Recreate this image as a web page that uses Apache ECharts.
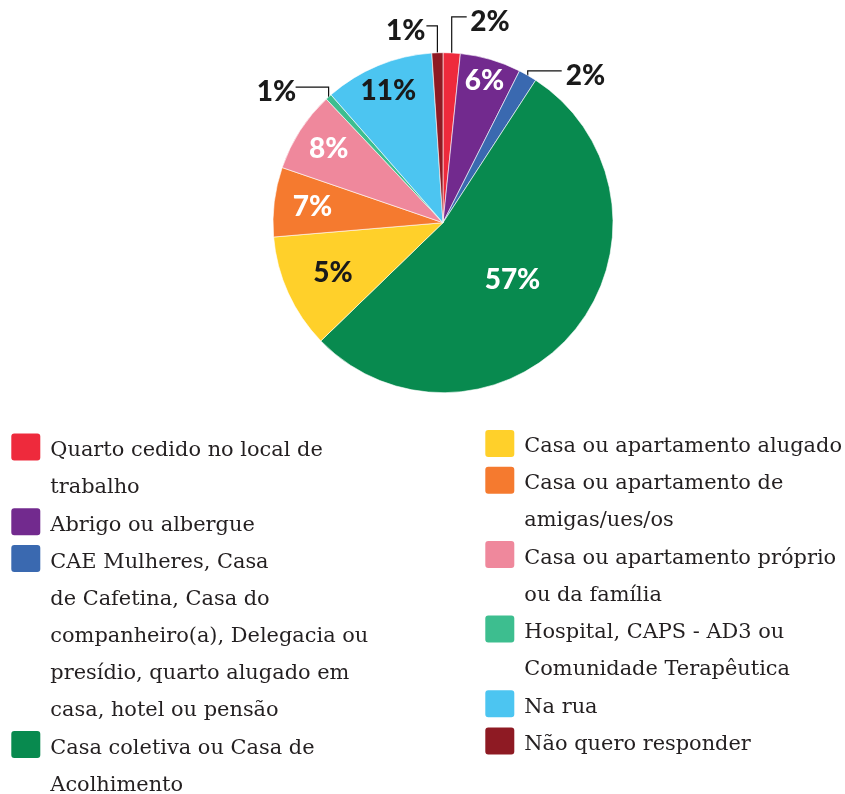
<!DOCTYPE html>
<html><head><meta charset="utf-8">
<script src="https://cdn.jsdelivr.net/npm/echarts@6/dist/echarts.min.js"></script>
<style>html,body{margin:0;padding:0;background:#fff}#c{width:845px;height:794px}</style>
</head><body><div id="c"></div>
<script>
// ---- data ----
const categories = [
  'Quarto cedido no local de trabalho',
  'Abrigo ou albergue',
  'CAE Mulheres, Casa de Cafetina, Casa do companheiro(a), Delegacia ou presídio, quarto alugado em casa, hotel ou pensão',
  'Casa coletiva ou Casa de Acolhimento',
  'Casa ou apartamento alugado',
  'Casa ou apartamento de amigas/ues/os',
  'Casa ou apartamento próprio ou da família',
  'Hospital, CAPS - AD3 ou Comunidade Terapêutica',
  'Na rua',
  'Não quero responder'
];
// slice sizes as drawn in the picture (angular share, %)
const sliceValues = [1.63, 5.8, 1.75, 53.6, 10.9, 6.6, 7.7, 0.6, 10.4, 1.05];
// percentage labels as printed on the chart
const percentLabels = ['2%', '6%', '2%', '57%', '5%', '7%', '8%', '1%', '11%', '1%'];
// legend text, as wrapped in the picture
const legendLines = [
  ['Quarto cedido no local de', 'trabalho'],
  ['Abrigo ou albergue'],
  ['CAE Mulheres, Casa', 'de Cafetina, Casa do', 'companheiro(a), Delegacia ou', 'presídio, quarto alugado em', 'casa, hotel ou pensão'],
  ['Casa coletiva ou Casa de', 'Acolhimento'],
  ['Casa ou apartamento alugado'],
  ['Casa ou apartamento de', 'amigas/ues/os'],
  ['Casa ou apartamento próprio', 'ou da família'],
  ['Hospital, CAPS - AD3 ou', 'Comunidade Terapêutica'],
  ['Na rua'],
  ['Não quero responder']
];

// ---- styles / layout ----
const colors = ['#EE2A3C', '#722A8E', '#3A69B0', '#088A4F', '#FFD02A', '#F57A2F', '#EF889C', '#3DBE8F', '#4CC5F1', '#8E1A23'];
const labelColors = ['#1a1a1a', '#ffffff', '#1a1a1a', '#ffffff', '#1a1a1a', '#ffffff', '#ffffff', '#1a1a1a', '#1a1a1a', '#1a1a1a'];
const CX = 443, CY = 222.7, R = 170;
const insideRadius = {1: 148, 3: 90, 4: 121, 5: 131.5, 6: 136, 8: 142.7};
const outsideCfg = {
  0: {start: 0, up: 36, h: 15, side: 1, gap: 3.5},
  9: {start: 0, up: 27, h: 11, side: -1, gap: 1},
  2: {start: 9.6, up: 4.4, h: 34, side: 1, gap: 4},
  7: {start: 2.8, up: 9.9, h: 33, side: -1, gap: -0.5}
};
const LH = 37.2;
const legendColumn = [0, 0, 0, 0, 1, 1, 1, 1, 1, 1];
const columnLeft = [9.3, 483.3];
const columnTextCenter = [450.5, 446.5];
// rounded square 31x29; the extra move-to point below keeps the square a little above the text centre
const iconPath = 'path://M0,36M4,0H27Q31,0 31,4V25Q31,29 27,29H4Q0,29 0,25V4Q0,0 4,0Z';

const chart = echarts.init(document.getElementById('c'), null, {renderer: 'canvas'});

// legend text block: blank lines before the text keep the icon level with the first line
function legendText(i) {
  const lines = legendLines[i];
  const pad = [];
  for (let k = 1; k < lines.length; k++) pad.push('');
  return pad.concat(lines).join('\n');
}

const lineCount = [0, 0];
const legends = categories.map((name, i) => {
  const col = legendColumn[i];
  const n = legendLines[i].length;
  const textCenter = columnTextCenter[col] + lineCount[col] * LH;
  lineCount[col] += n;
  return {
    data: [{name: name}],
    left: columnLeft[col],
    top: textCenter - (n - 0.5) * LH,
    orient: 'vertical',
    padding: 0,
    itemWidth: 31,
    itemHeight: 36,
    icon: iconPath,
    selectedMode: false,
    formatter: nm => legendText(categories.indexOf(nm)),
    textStyle: {fontFamily: '"DejaVu Serif", serif', fontSize: 20.9, color: '#231f20', lineHeight: LH, padding: [0, 0, 0, 4]}
  };
});

chart.setOption({
  animation: false,
  legend: legends,
  series: [{
    type: 'pie',
    center: [CX, CY],
    radius: R,
    startAngle: 90,
    clockwise: true,
    avoidLabelOverlap: false,
    emphasis: {disabled: true},
    itemStyle: {borderColor: '#ffffff', borderWidth: 0.6},
    label: {
      show: true,
      formatter: p => percentLabels[p.dataIndex],
      fontFamily: 'Lato, "Open Sans", sans-serif',
      fontWeight: 900,
      fontSize: 28
    },
    labelLine: {length: 10, length2: 10, lineStyle: {color: '#111', width: 1.2}},
    data: categories.map((n, i) => ({
      name: n,
      value: sliceValues[i],
      itemStyle: {color: colors[i]},
      label: {position: outsideCfg[i] ? 'outside' : 'inside', color: labelColors[i]},
      labelLine: {show: !!outsideCfg[i]}
    })),
    labelLayout: function (p) {
      const i = p.dataIndex;
      const o = outsideCfg[i];
      if (o) {
        const pts = p.labelLinePoints;
        if (!pts) return {};
        const ax = pts[0][0], ay = pts[0][1];
        const y1 = ay - o.up;
        const x2 = ax + o.side * o.h;
        return {
          x: x2 + o.side * o.gap, y: y1 + 5,
          align: o.side > 0 ? 'left' : 'right', verticalAlign: 'middle',
          labelLinePoints: [[ax, ay + o.start], [ax, y1], [x2, y1]]
        };
      }
      const r = p.labelRect;
      const lx = r.x + r.width / 2, ly = r.y + r.height / 2;
      const dx = lx - CX, dy = ly - CY, d = Math.hypot(dx, dy);
      const rr = insideRadius[i];
      return {x: CX + dx / d * rr, y: CY + dy / d * rr, align: 'center', verticalAlign: 'middle'};
    }
  }]
});
</script>
</body></html>
